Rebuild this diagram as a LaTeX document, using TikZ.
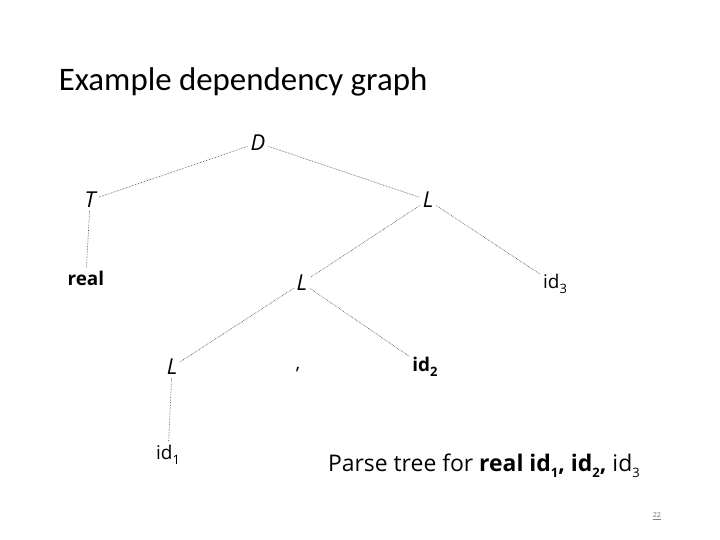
\documentclass[tikz,border=0pt]{standalone}
\usepackage{fontspec}
\setmainfont{Carlito}
\newfontfamily\treefont{Open Sans}
\newcommand{\lowidx}[1]{\raisebox{-0.5ex}{\fontsize{13}{14}\selectfont #1}}

\begin{document}
\begin{tikzpicture}[
    sym/.style={font=\treefont\fontsize{22}{26}\selectfont\itshape,inner sep=3pt},
    tok/.style={font=\treefont\fontsize{19}{22}\selectfont,inner sep=3pt},
    branch/.style={black!75,densely dotted,line width=0.6pt}]
  \useasboundingbox[fill=white] (0,0) rectangle (25.4,19.05);

  \node[anchor=west,font=\fontsize{33}{39}\selectfont] (title) at (1.95,16.15) {Example dependency graph};

  \node[sym] (D) at (9.10,14.01) {D};
  \node[sym] (T) at (3.18,11.99) {T};
  \node[sym] (L1) at (15.10,11.99) {L};
  \node[tok] (real) at (3.03,9.24) {\textbf{real}};
  \node[sym] (L2) at (10.65,9.07) {L};
  \node[tok] (id3) at (19.58,9.03) {id\lowidx{3}};
  \node[sym] (L3) at (6.07,6.10) {L};
  \node[tok] (comma) at (10.51,6.00) {,};
  \node[tok] (id2) at (14.99,6.10) {\textbf{id\lowidx{2}}};
  \node[tok] (id1) at (5.93,3.00) {id\lowidx{1}};

  \draw[branch] (D) -- (T);
  \draw[branch] (D) -- (L1);
  \draw[branch] (T) -- (real);
  \draw[branch] (L1) -- (L2);
  \draw[branch] (L1) -- (id3);
  \draw[branch] (L2) -- (L3);
  \draw[branch] (L2) -- (id2);
  \draw[branch] (L3) -- (id1);

  \node[font=\treefont\fontsize{23}{27}\selectfont] (caption) at (17.07,2.62)
    {Parse tree for \textbf{real id\lowidx{1}, id\lowidx{2},} id\lowidx{3}};

  \node[text=gray,font=\fontsize{8}{9}\selectfont] (page) at (23.17,0.85) {\underline{22}};
\end{tikzpicture}
\end{document}
